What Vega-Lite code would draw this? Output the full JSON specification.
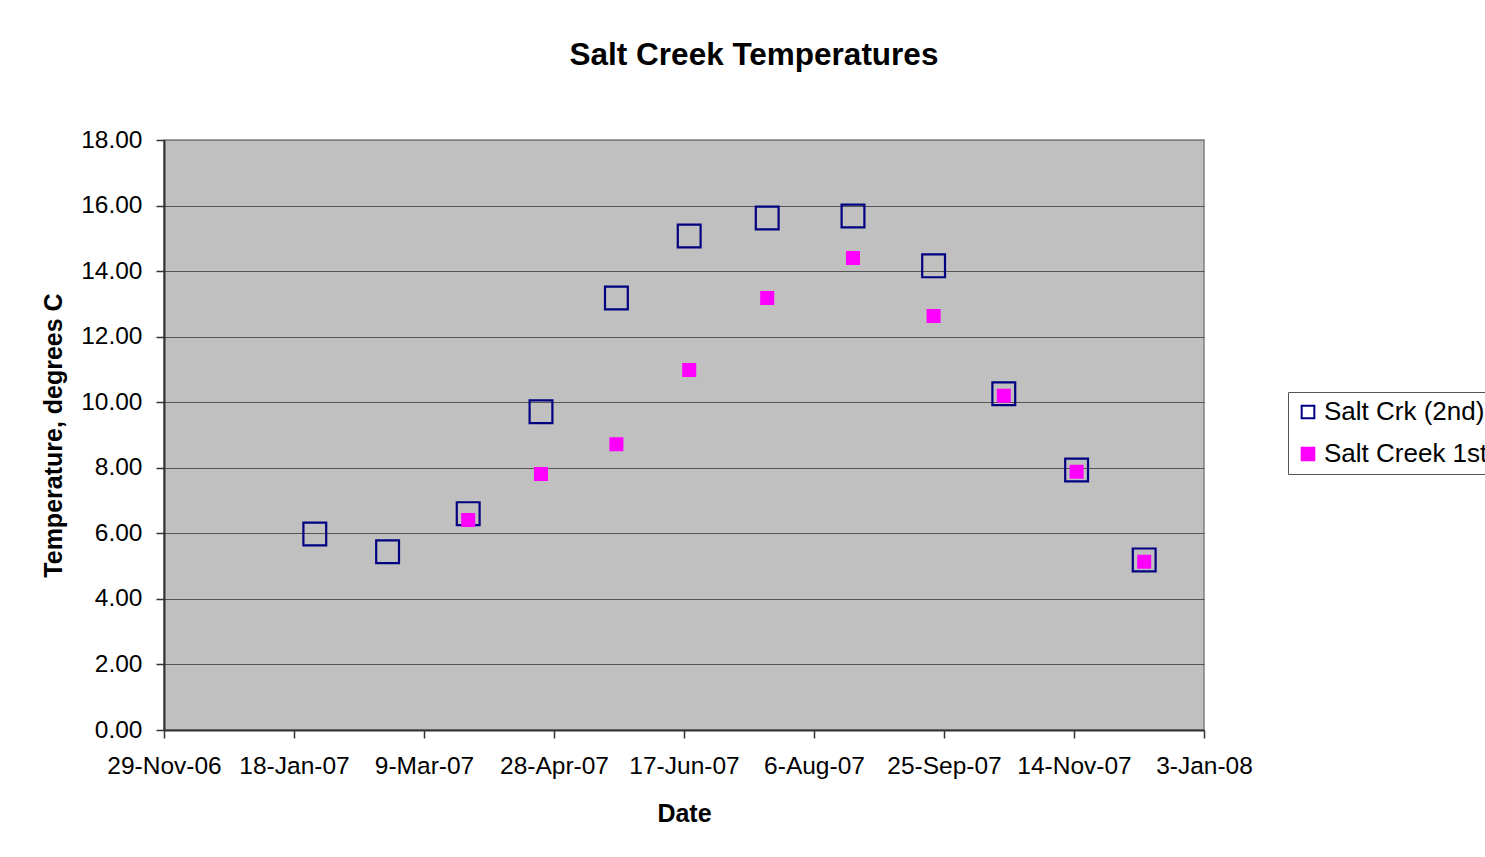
{
  "$schema": "https://vega.github.io/schema/vega-lite/v6.json",
  "width": 1040,
  "height": 590,
  "autosize": {"type": "none"},
  "padding": {"left": 164, "top": 140, "right": 281, "bottom": 127},
  "background": "white",
  "config": {
    "font": "Liberation Sans",
    "view": {"fill": "#C0C0C0", "stroke": "#808080", "strokeWidth": 1.5}
  },
  "title": {
    "text": "Salt Creek Temperatures",
    "fontSize": 31.5,
    "fontWeight": "bold",
    "font": "Liberation Sans",
    "color": "black",
    "anchor": "middle",
    "baseline": "alphabetic",
    "dx": 70,
    "offset": 31
  },
  "data": {
    "values": [
      {"date": "2007-01-26", "temp": 5.98, "series": "Salt Crk (2nd)"},
      {"date": "2007-02-23", "temp": 5.44, "series": "Salt Crk (2nd)"},
      {"date": "2007-03-26", "temp": 6.60, "series": "Salt Crk (2nd)"},
      {"date": "2007-04-23", "temp": 9.71, "series": "Salt Crk (2nd)"},
      {"date": "2007-05-22", "temp": 13.18, "series": "Salt Crk (2nd)"},
      {"date": "2007-06-19", "temp": 15.07, "series": "Salt Crk (2nd)"},
      {"date": "2007-07-19", "temp": 15.62, "series": "Salt Crk (2nd)"},
      {"date": "2007-08-21", "temp": 15.68, "series": "Salt Crk (2nd)"},
      {"date": "2007-09-21", "temp": 14.16, "series": "Salt Crk (2nd)"},
      {"date": "2007-10-18", "temp": 10.26, "series": "Salt Crk (2nd)"},
      {"date": "2007-11-15", "temp": 7.93, "series": "Salt Crk (2nd)"},
      {"date": "2007-12-11", "temp": 5.19, "series": "Salt Crk (2nd)"},
      {"date": "2007-03-26", "temp": 6.41, "series": "Salt Creek 1st"},
      {"date": "2007-04-23", "temp": 7.81, "series": "Salt Creek 1st"},
      {"date": "2007-05-22", "temp": 8.72, "series": "Salt Creek 1st"},
      {"date": "2007-06-19", "temp": 10.98, "series": "Salt Creek 1st"},
      {"date": "2007-07-19", "temp": 13.18, "series": "Salt Creek 1st"},
      {"date": "2007-08-21", "temp": 14.40, "series": "Salt Creek 1st"},
      {"date": "2007-09-21", "temp": 12.63, "series": "Salt Creek 1st"},
      {"date": "2007-10-18", "temp": 10.20, "series": "Salt Creek 1st"},
      {"date": "2007-11-15", "temp": 7.88, "series": "Salt Creek 1st"},
      {"date": "2007-12-11", "temp": 5.13, "series": "Salt Creek 1st"}
    ]
  },
  "mark": {"type": "point", "shape": "square", "strokeWidth": 2.2, "opacity": 1, "fillOpacity": 1, "strokeOpacity": 1},
  "encoding": {
    "x": {
      "field": "date",
      "type": "temporal",
      "scale": {
        "type": "utc",
        "domain": [
          {"year": 2006, "month": 11, "date": 29, "utc": true},
          {"year": 2008, "month": 1, "date": 3, "utc": true}
        ],
        "nice": false
      },
      "axis": {
        "title": "Date",
        "titleFontSize": 25,
        "titleFontWeight": "bold",
        "titleColor": "black",
        "titlePadding": 24,
        "values": [
          {"year": 2006, "month": 11, "date": 29, "utc": true},
          {"year": 2007, "month": 1, "date": 18, "utc": true},
          {"year": 2007, "month": 3, "date": 9, "utc": true},
          {"year": 2007, "month": 4, "date": 28, "utc": true},
          {"year": 2007, "month": 6, "date": 17, "utc": true},
          {"year": 2007, "month": 8, "date": 6, "utc": true},
          {"year": 2007, "month": 9, "date": 25, "utc": true},
          {"year": 2007, "month": 11, "date": 14, "utc": true},
          {"year": 2008, "month": 1, "date": 3, "utc": true}
        ],
        "labelExpr": "utcFormat(datum.value, '%-d-%b-%y')",
        "labelFontSize": 24.5,
        "labelColor": "black",
        "labelPadding": 16,
        "labelFlush": false,
        "labelOverlap": false,
        "labelAngle": 0,
        "tickSize": 8,
        "tickColor": "#333333",
        "tickWidth": 1.5,
        "domainColor": "#333333",
        "domainWidth": 2,
        "grid": false
      }
    },
    "y": {
      "field": "temp",
      "type": "quantitative",
      "scale": {"domain": [0, 18], "nice": false, "zero": true},
      "axis": {
        "title": "Temperature, degrees C",
        "titleFontSize": 25,
        "titleFontWeight": "bold",
        "titleColor": "black",
        "titlePadding": 14,
        "values": [0, 2, 4, 6, 8, 10, 12, 14, 16, 18],
        "format": ".2f",
        "labelFontSize": 24.5,
        "labelColor": "black",
        "labelPadding": 14,
        "labelFlush": false,
        "labelOverlap": false,
        "tickSize": 8,
        "tickColor": "#333333",
        "tickWidth": 1.5,
        "domainColor": "#333333",
        "domainWidth": 2,
        "grid": true,
        "gridColor": {"condition": {"test": "datum.value == 18", "value": "#808080"}, "value": "#555555"},
        "gridWidth": 1.2
      }
    },
    "fill": {
      "field": "series",
      "type": "nominal",
      "scale": {"domain": ["Salt Crk (2nd)", "Salt Creek 1st"], "range": ["transparent", "#FF00FF"]},
      "legend": {
        "title": null,
        "orient": "none",
        "legendX": 1124,
        "legendY": 252,
        "fillColor": "white",
        "strokeColor": "#555555",
        "padding": 7,
        "symbolType": "square",
        "symbolSize": 160,
        "symbolStrokeWidth": 2,
        "labelFontSize": 26,
        "labelColor": "black",
        "labelOffset": 3,
        "rowPadding": 16,
        "labelLimit": 400
      }
    },
    "stroke": {
      "field": "series",
      "type": "nominal",
      "scale": {"domain": ["Salt Crk (2nd)", "Salt Creek 1st"], "range": ["#000080", "#FF00FF"]},
      "legend": {
        "title": null,
        "orient": "none",
        "legendX": 1124,
        "legendY": 252,
        "fillColor": "white",
        "strokeColor": "#555555",
        "padding": 7,
        "symbolType": "square",
        "symbolSize": 160,
        "symbolStrokeWidth": 2,
        "labelFontSize": 26,
        "labelColor": "black",
        "labelOffset": 3,
        "rowPadding": 16,
        "labelLimit": 400
      }
    },
    "size": {
      "condition": {"test": "datum.series == 'Salt Crk (2nd)'", "value": 520},
      "value": 140
    }
  }
}
